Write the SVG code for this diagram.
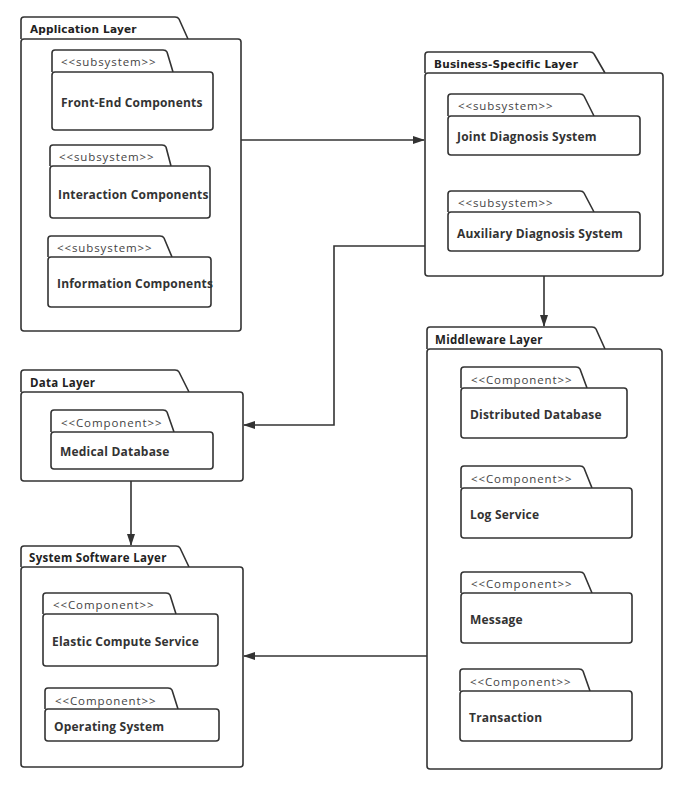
<svg xmlns="http://www.w3.org/2000/svg" width="680" height="791" viewBox="0 0 680 791">
<style>
.shape{fill:#fff;stroke:#333;stroke-width:1.6;stroke-linejoin:round}
.tab{fill:#fff;stroke:#333;stroke-width:1.6;stroke-linejoin:round}
.layer{font-family:"Open Sans","DejaVu Sans",sans-serif;font-weight:bold;font-size:11.5px;fill:#222;letter-spacing:0.3px}
.comic{font-family:"DejaVu Sans",sans-serif;font-weight:bold;font-size:10.5px;fill:#222;letter-spacing:0.2px}
.st{font-family:"Open Sans","DejaVu Sans",sans-serif;font-size:11.5px;fill:#444;letter-spacing:0.9px}
.nm{font-family:"Open Sans","DejaVu Sans",sans-serif;font-weight:bold;font-size:12px;fill:#333;letter-spacing:0.2px}
.conn{fill:none;stroke:#333;stroke-width:1.6}
</style>
<defs>
<marker id="arr" markerWidth="12" markerHeight="8" refX="11" refY="4" orient="auto" markerUnits="userSpaceOnUse">
<path d="M0,0 L12,4 L0,8 Z" fill="#333"/>
</marker>
</defs>

<g id="application-layer">
<path class="tab" d="M21 39 V20 Q21 17 24 17 H175 Q178 17 179 19 L188 39"/>
<rect class="shape" x="21" y="39" width="220" height="292" rx="3"/>
<text class="comic" x="30" y="33">Application Layer</text>
</g>
<g id="front-end-components">
<path class="tab" d="M52 72 V53 Q52 50 55 50 H163 Q166 50 167 52 L173 72"/>
<rect class="shape" x="52" y="72" width="161" height="58" rx="3"/>
<text class="st" x="61" y="66">&lt;&lt;subsystem&gt;&gt;</text>
<text class="nm" x="61" y="107">Front-End Components</text>
</g>
<g id="interaction-components">
<path class="tab" d="M50 166 V148 Q50 145 53 145 H162 Q165 145 166 147 L171 166"/>
<rect class="shape" x="50" y="166" width="160" height="52" rx="3"/>
<text class="st" x="59" y="161">&lt;&lt;subsystem&gt;&gt;</text>
<text class="nm" x="58" y="199">Interaction Components</text>
</g>
<g id="information-components">
<path class="tab" d="M48 257 V239 Q48 236 51 236 H160 Q163 236 164 238 L172 257"/>
<rect class="shape" x="48" y="257" width="163" height="50" rx="3"/>
<text class="st" x="57" y="252">&lt;&lt;subsystem&gt;&gt;</text>
<text class="nm" x="57" y="288">Information Components</text>
</g>

<g id="business-specific-layer">
<path class="tab" d="M425 73 V55 Q425 52 428 52 H590 Q593 52 594 54 L605 73"/>
<rect class="shape" x="425" y="73" width="238" height="203" rx="3"/>
<text class="comic" x="434" y="68">Business-Specific Layer</text>
</g>
<g id="joint-diagnosis-system">
<path class="tab" d="M448 116 V97 Q448 94 451 94 H580 Q583 94 584 96 L594 116"/>
<rect class="shape" x="448" y="116" width="192" height="39" rx="3"/>
<text class="st" x="458" y="110">&lt;&lt;subsystem&gt;&gt;</text>
<text class="nm" x="457" y="141">Joint Diagnosis System</text>
</g>
<g id="auxiliary-diagnosis-system">
<path class="tab" d="M448 212 V194 Q448 191 451 191 H580 Q583 191 584 193 L594 212"/>
<rect class="shape" x="448" y="212" width="192" height="39" rx="3"/>
<text class="st" x="458" y="207">&lt;&lt;subsystem&gt;&gt;</text>
<text class="nm" x="457" y="238">Auxiliary Diagnosis System</text>
</g>

<g id="data-layer">
<path class="tab" d="M21 392 V373 Q21 370 24 370 H175 Q178 370 179 372 L189 392"/>
<rect class="shape" x="21" y="392" width="222" height="89" rx="3"/>
<text class="layer" x="30" y="387">Data Layer</text>
</g>
<g id="medical-database">
<path class="tab" d="M51 432 V413 Q51 410 54 410 H163 Q166 410 167 412 L174 432"/>
<rect class="shape" x="51" y="432" width="162" height="37" rx="3"/>
<text class="st" x="61" y="427">&lt;&lt;Component&gt;&gt;</text>
<text class="nm" x="60" y="456">Medical Database</text>
</g>

<g id="system-software-layer">
<path class="tab" d="M21 567 V549 Q21 546 24 546 H176 Q179 546 180 548 L189 567"/>
<rect class="shape" x="21" y="567" width="222" height="200" rx="3"/>
<text class="layer" x="29" y="562">System Software Layer</text>
</g>
<g id="elastic-compute-service">
<path class="tab" d="M43 614 V596 Q43 593 46 593 H166 Q169 593 170 595 L176 614"/>
<rect class="shape" x="43" y="614" width="175" height="52" rx="3"/>
<text class="st" x="53" y="609">&lt;&lt;Component&gt;&gt;</text>
<text class="nm" x="52" y="646">Elastic Compute Service</text>
</g>
<g id="operating-system">
<path class="tab" d="M45 709 V691 Q45 688 48 688 H168 Q171 688 172 690 L178 709"/>
<rect class="shape" x="45" y="709" width="174" height="32" rx="3"/>
<text class="st" x="55" y="705">&lt;&lt;Component&gt;&gt;</text>
<text class="nm" x="54" y="731">Operating System</text>
</g>

<g id="middleware-layer">
<path class="tab" d="M427 349 V330 Q427 327 430 327 H592 Q595 327 596 329 L605 349"/>
<rect class="shape" x="427" y="349" width="235" height="420" rx="3"/>
<text class="layer" x="435" y="344">Middleware Layer</text>
</g>
<g id="distributed-database">
<path class="tab" d="M461 388 V370 Q461 367 464 367 H576 Q579 367 580 369 L587 388"/>
<rect class="shape" x="461" y="388" width="166" height="50" rx="3"/>
<text class="st" x="471" y="384">&lt;&lt;Component&gt;&gt;</text>
<text class="nm" x="470" y="419">Distributed Database</text>
</g>
<g id="log-service">
<path class="tab" d="M461 488 V469 Q461 466 464 466 H580 Q583 466 584 468 L592 488"/>
<rect class="shape" x="461" y="488" width="171" height="50" rx="3"/>
<text class="st" x="471" y="483">&lt;&lt;Component&gt;&gt;</text>
<text class="nm" x="470" y="519">Log Service</text>
</g>
<g id="message">
<path class="tab" d="M461 593 V575 Q461 572 464 572 H580 Q583 572 584 574 L592 593"/>
<rect class="shape" x="461" y="593" width="171" height="50" rx="3"/>
<text class="st" x="471" y="588">&lt;&lt;Component&gt;&gt;</text>
<text class="nm" x="470" y="624">Message</text>
</g>
<g id="transaction">
<path class="tab" d="M460 691 V672 Q460 669 463 669 H579 Q582 669 583 671 L590 691"/>
<rect class="shape" x="460" y="691" width="172" height="50" rx="3"/>
<text class="st" x="470" y="686">&lt;&lt;Component&gt;&gt;</text>
<text class="nm" x="469" y="722">Transaction</text>
</g>

<g id="connectors">
<path class="conn" d="M241 140 H424" marker-end="url(#arr)"/>
<path class="conn" d="M425 246 H334 V425 H244" marker-end="url(#arr)"/>
<path class="conn" d="M544 276 V326" marker-end="url(#arr)"/>
<path class="conn" d="M131 481 V545" marker-end="url(#arr)"/>
<path class="conn" d="M427 656 H244" marker-end="url(#arr)"/>
</g>
</svg>
